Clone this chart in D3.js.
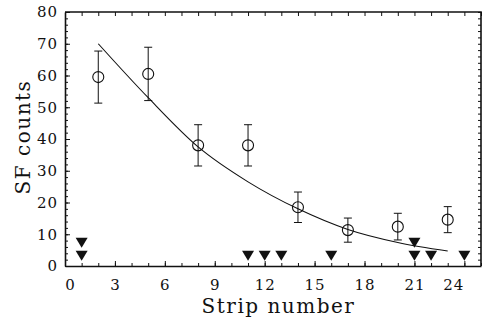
<!DOCTYPE html>
<html>
<head>
<meta charset="utf-8">
<script src="https://cdn.jsdelivr.net/npm/d3@7"></script>
<style>
body { margin: 0; background: #fff; }
svg { display: block; }
text { font-family: "DejaVu Serif", serif; fill: #111; }
</style>
</head>
<body>
<div id="chart"></div>
<script>
// measured points with error bars
var strips = [2, 5, 8, 11, 14, 17, 20, 23]
var counts = [59.5, 60.5, 38, 38, 18.5, 11.3, 12.4, 14.6]
var errors = [8.2, 8.4, 6.5, 6.5, 4.8, 3.8, 4.2, 4.1]

// fitted curve
var fitStrip = [2, 5, 8, 11, 14, 17, 20, 23]
var fitCounts = [70, 53, 37.5, 26.5, 18, 11.5, 7.4, 4.7]

// down triangles (limits)
var limitStrip = [1, 1, 11, 12, 13, 16, 21, 21, 22, 24]
var limitLevel = [3.2, 7.3, 3.2, 3.2, 3.2, 3.2, 3.2, 7.3, 3.2, 3.2]

var xTicks = [0, 3, 6, 9, 12, 15, 18, 21, 24]
var yTicks = [0, 10, 20, 30, 40, 50, 60, 70, 80]

var width = 482
var height = 321
var margins = { top: 12, right: 1, bottom: 55, left: 65 }

var svg = d3.select("#chart")
    .append("svg")
    .attr("width", width)
    .attr("height", height)

var xScale = d3.scaleLinear()
    .domain([0, 25])
    .range([margins.left, width - margins.right])
var yScale = d3.scaleLinear()
    .domain([0, 80])
    .range([height - margins.bottom, margins.top])

var yBottom = height - margins.bottom

// minor ticks
svg.append("g")
    .attr("class", "minor")
    .attr("transform", "translate(0," + yBottom + ")")
    .call(d3.axisBottom(xScale).tickValues(d3.range(0, 26)).tickSize(-3).tickFormat(""))
svg.append("g")
    .attr("class", "minor")
    .attr("transform", "translate(0," + margins.top + ")")
    .call(d3.axisTop(xScale).tickValues(d3.range(0, 26)).tickSize(-4).tickFormat(""))
svg.append("g")
    .attr("class", "minor")
    .attr("transform", "translate(" + margins.left + ",0)")
    .call(d3.axisLeft(yScale).tickValues(d3.range(0, 81, 2)).tickSize(-3).tickFormat(""))
svg.append("g")
    .attr("class", "minor")
    .attr("transform", "translate(" + (width - margins.right) + ",0)")
    .call(d3.axisRight(yScale).tickValues(d3.range(0, 81, 2)).tickSize(-3).tickFormat(""))

// Add Axis
var xaxis = d3.axisBottom(xScale).tickValues(xTicks).tickSize(-5).tickSizeOuter(0).tickPadding(13)
var yaxis = d3.axisLeft(yScale).tickValues(yTicks).tickSize(-5).tickSizeOuter(0).tickPadding(7)

var gx = svg.append("g")
    .attr("transform", "translate(0," + yBottom + ")")
    .call(xaxis)
var gy = svg.append("g")
    .attr("transform", "translate(" + margins.left + ",0)")
    .call(yaxis)

gx.selectAll("text").attr("dx", d => d == 0 ? 5 : d == 24 ? -11 : 0)

svg.selectAll(".tick text")
    .style("font-size", "15px")
    .style("letter-spacing", "1px")
svg.selectAll(".tick line, .domain")
    .attr("stroke", "#111")
svg.selectAll(".domain").attr("stroke-width", 1.6)
svg.selectAll(".minor .domain").remove()

// frame top and right
svg.append("path")
    .attr("d", "M" + margins.left + "," + margins.top + "H" + (width - margins.right) + "V" + yBottom)
    .attr("fill", "none")
    .attr("stroke", "#111")
    .attr("stroke-width", 1.6)

// axis titles
svg.append("text")
    .attr("x", (margins.left + width) / 2 + 5)
    .attr("y", 313)
    .attr("text-anchor", "middle")
    .style("font-size", "20px")
    .style("letter-spacing", "1.5px")
    .text("Strip number")
svg.append("text")
    .attr("transform", "translate(30,137) rotate(-90)")
    .attr("text-anchor", "middle")
    .style("font-size", "20px")
    .style("letter-spacing", "1.5px")
    .text("SF counts")

// fitted curve
var line = d3.line()
    .x((d, i) => xScale(d))
    .y((d, i) => yScale(fitCounts[i]))
    .curve(d3.curveMonotoneX)
svg.append("path")
    .datum(fitStrip)
    .attr("d", line)
    .attr("fill", "none")
    .attr("stroke", "#111")
    .attr("stroke-width", 1.1)

// error bars
var points = svg.selectAll(".pt")
    .data(strips)
    .enter()
    .append("g")
    .attr("class", "pt")

points.append("line")
    .attr("x1", d => xScale(d))
    .attr("x2", d => xScale(d))
    .attr("y1", (d, i) => yScale(counts[i] + errors[i]))
    .attr("y2", (d, i) => yScale(counts[i] - errors[i]))
    .attr("stroke", "#111")
points.append("line")
    .attr("x1", d => xScale(d) - 4)
    .attr("x2", d => xScale(d) + 4)
    .attr("y1", (d, i) => yScale(counts[i] + errors[i]))
    .attr("y2", (d, i) => yScale(counts[i] + errors[i]))
    .attr("stroke", "#111")
points.append("line")
    .attr("x1", d => xScale(d) - 4)
    .attr("x2", d => xScale(d) + 4)
    .attr("y1", (d, i) => yScale(counts[i] - errors[i]))
    .attr("y2", (d, i) => yScale(counts[i] - errors[i]))
    .attr("stroke", "#111")
points.append("circle")
    .attr("cx", d => xScale(d))
    .attr("cy", (d, i) => yScale(counts[i]))
    .attr("r", 5.5)
    .attr("fill", "none")
    .attr("stroke", "#111")
    .attr("stroke-width", 1.1)

// triangles
svg.selectAll(".lim")
    .data(limitStrip)
    .enter()
    .append("path")
    .attr("class", "lim")
    .attr("transform", (d, i) => "translate(" + xScale(d) + "," + yScale(limitLevel[i]) + ")")
    .attr("d", "M-6,-5L6,-5L0,5Z")
    .attr("fill", "#111")
</script>
</body>
</html>
